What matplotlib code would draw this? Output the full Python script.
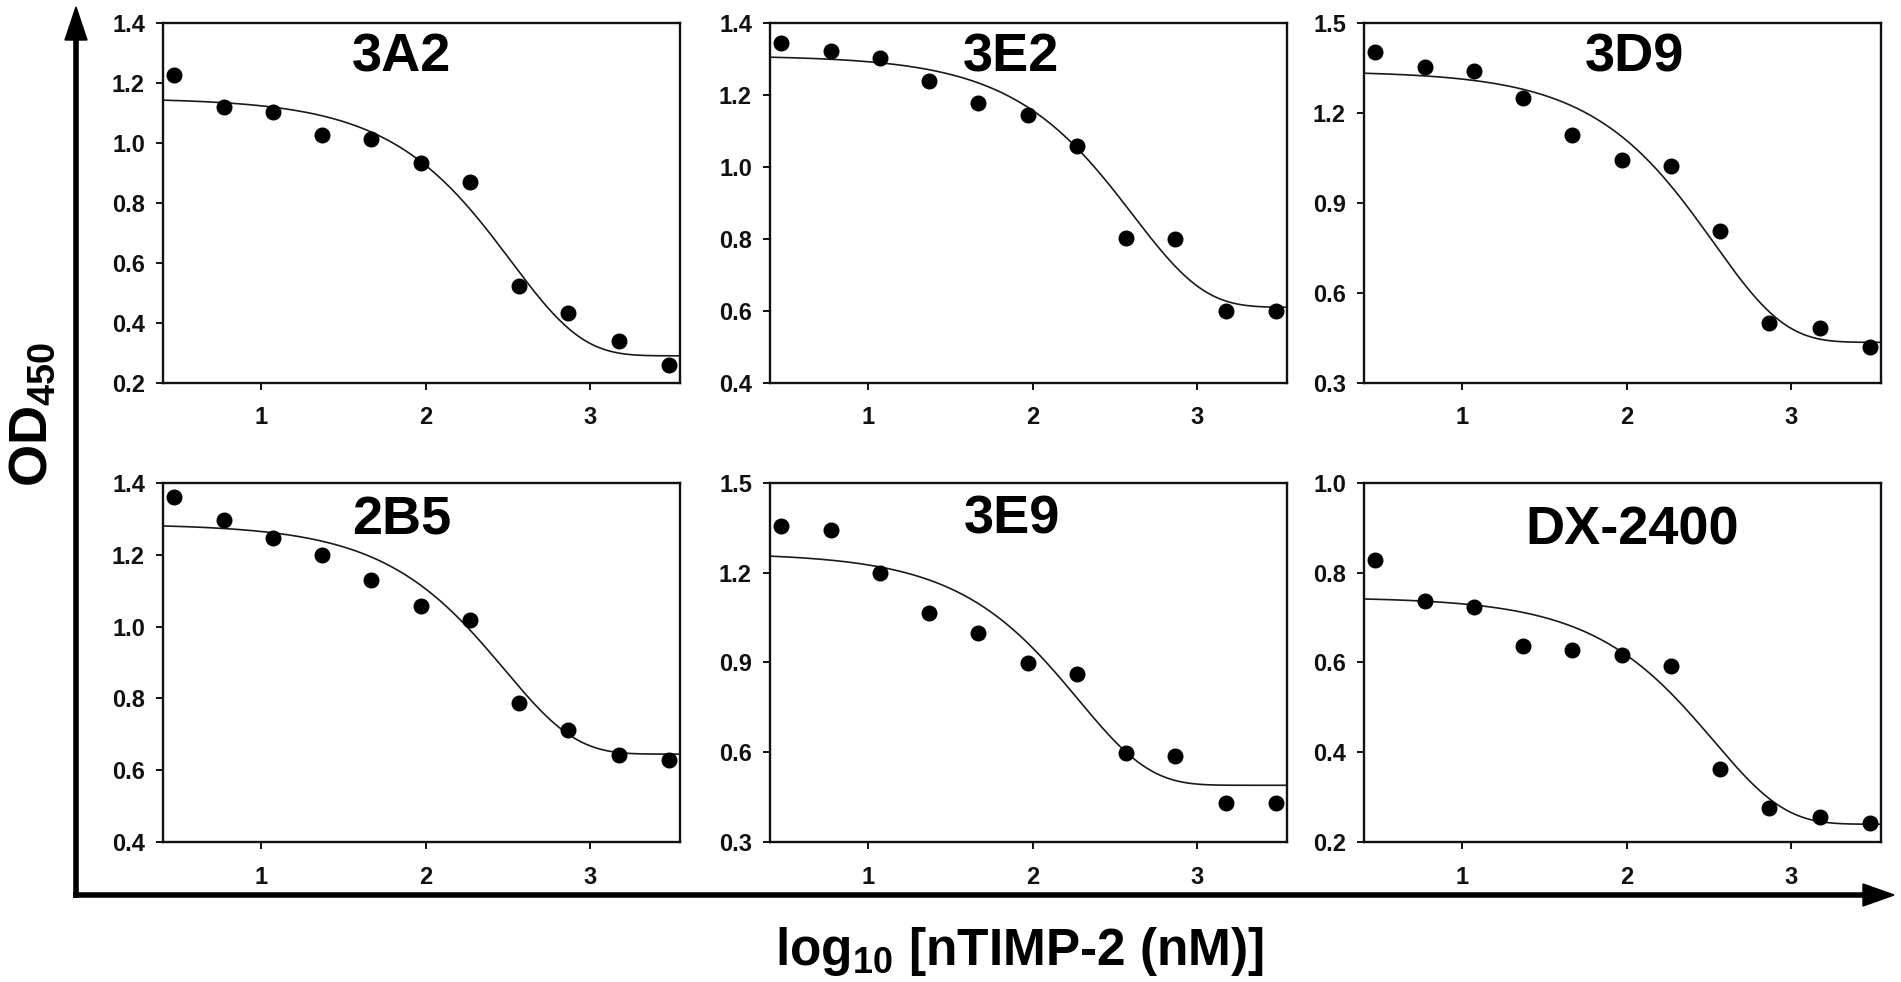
# -------------------------------------------------------------------------------------
# Libraries
import numpy as np
import matplotlib
matplotlib.use('Agg')
import matplotlib.pyplot as plt
from matplotlib.lines import Line2D
from matplotlib.patches import Polygon
from matplotlib.ticker import FormatStrFormatter
# -------------------------------------------------------------------------------------

# -------------------------------------------------------------------------------------
# Data
log_conc = [0.47, 0.77, 1.07, 1.37, 1.67, 1.97, 2.27, 2.57, 2.87, 3.18, 3.48]

panel_names = ['3A2', '3E2', '3D9', '2B5', '3E9', 'DX-2400']

od_3a2 = [1.228, 1.122, 1.105, 1.027, 1.013, 0.933, 0.871, 0.524, 0.434, 0.338, 0.259]
od_3e2 = [1.344, 1.324, 1.303, 1.240, 1.179, 1.145, 1.059, 0.803, 0.799, 0.600, 0.600]
od_3d9 = [1.405, 1.355, 1.342, 1.250, 1.127, 1.044, 1.025, 0.808, 0.498, 0.484, 0.420]
od_2b5 = [1.359, 1.297, 1.245, 1.199, 1.129, 1.058, 1.017, 0.788, 0.711, 0.642, 0.630]
od_3e9 = [1.354, 1.341, 1.200, 1.066, 0.999, 0.899, 0.862, 0.599, 0.588, 0.431, 0.432]
od_dx2400 = [0.828, 0.737, 0.723, 0.636, 0.627, 0.616, 0.593, 0.364, 0.277, 0.257, 0.242]

# fitted decay curves: top, bottom, log10 of decay constant
fit_top = [1.15, 1.31, 1.34, 1.285, 1.265, 0.745]
fit_bottom = [0.29, 0.61, 0.435, 0.645, 0.49, 0.24]
fit_log_x0 = [2.52, 2.61, 2.53, 2.48, 2.28, 2.53]

y_ticks = [[0.2, 0.4, 0.6, 0.8, 1.0, 1.2, 1.4],
           [0.4, 0.6, 0.8, 1.0, 1.2, 1.4],
           [0.3, 0.6, 0.9, 1.2, 1.5],
           [0.4, 0.6, 0.8, 1.0, 1.2, 1.4],
           [0.3, 0.6, 0.9, 1.2, 1.5],
           [0.2, 0.4, 0.6, 0.8, 1.0]]
x_ticks = [1, 2, 3]
x_limits = [0.40, 3.55]
# -------------------------------------------------------------------------------------

plt.rcParams['font.family'] = ['Liberation Sans', 'DejaVu Sans']
plt.rcParams['font.weight'] = 'bold'
plt.rcParams['mathtext.fontset'] = 'custom'
plt.rcParams['mathtext.rm'] = 'Liberation Sans:bold'
plt.rcParams['mathtext.it'] = 'Liberation Sans:bold'
plt.rcParams['mathtext.bf'] = 'Liberation Sans:bold'
plt.rcParams['mathtext.default'] = 'rm'

W, H = 1901, 982
fig = plt.figure(figsize=(W / 100, H / 100), dpi=100)
fig.patch.set_facecolor('white')


def fx(px):
    return px / W


def fy(py):
    return 1 - py / H


# panel layout in pixels: left, top
panel_left = [163, 770, 1364]
panel_top = [23.3, 482.7]
panel_w, panel_h = 517, 359.5

# title position in axes fraction
title_pos = [(0.462, 0.865), (0.466, 0.865), (0.524, 0.865),
             (0.462, 0.857), (0.468, 0.860), (0.519, 0.829)]

series = [od_3a2, od_3e2, od_3d9, od_2b5, od_3e9, od_dx2400]
x_fit = np.linspace(x_limits[0], x_limits[1], 300)

for i, (name, od) in enumerate(zip(panel_names, series)):
    row, col = divmod(i, 3)
    l = panel_left[col]
    t = panel_top[row]
    ax = fig.add_axes([fx(l), fy(t + panel_h), panel_w / W, panel_h / H])

    y_fit = fit_bottom[i] + (fit_top[i] - fit_bottom[i]) * np.exp(-10 ** x_fit / 10 ** fit_log_x0[i])
    ax.plot(x_fit, y_fit, color='#1a1a1a', lw=1.2)
    ax.plot(log_conc, od, 'o', color='black', ms=10.5, mec='black', clip_on=False, zorder=3)

    ax.set_xlim(x_limits)
    ax.set_ylim(y_ticks[i][0], y_ticks[i][-1])
    ax.set_xticks(x_ticks)
    ax.set_xticklabels([str(v) for v in x_ticks])
    ax.set_yticks(y_ticks[i])
    ax.yaxis.set_major_formatter(FormatStrFormatter('%.1f'))

    for s in ax.spines.values():
        s.set_linewidth(1.7)
        s.set_color('#111111')
    ax.tick_params(axis='both', direction='out', length=5, width=1.4, labelsize=17,
                   top=False, right=False, colors='#111111')
    ax.tick_params(axis='y', pad=8)
    ax.tick_params(axis='x', pad=12)

    ax.text(title_pos[i][0], title_pos[i][1], name, transform=ax.transAxes,
            ha='center', va='baseline', fontsize=39, fontweight='bold')

# big axis arrows
corner_x, corner_y = 76, 895
fig.add_artist(Line2D([fx(corner_x), fx(corner_x)], [fy(corner_y), fy(38)],
                      transform=fig.transFigure, color='black', lw=4, solid_capstyle='projecting'))
fig.add_artist(Polygon([[fx(corner_x), fy(7)], [fx(corner_x - 11), fy(40)], [fx(corner_x + 11), fy(40)]],
                       closed=True, transform=fig.transFigure, color='black'))
fig.add_artist(Line2D([fx(corner_x), fx(1866)], [fy(corner_y), fy(corner_y)],
                      transform=fig.transFigure, color='black', lw=4, solid_capstyle='projecting'))
fig.add_artist(Polygon([[fx(1894), fy(corner_y)], [fx(1863), fy(corner_y - 11)], [fx(1863), fy(corner_y + 11)]],
                       closed=True, transform=fig.transFigure, color='black'))

# axis titles
fig.text(fx(33), fy(414), r'OD$_{450}$', rotation=90, ha='center', va='center',
         fontsize=39, fontweight='bold')
fig.text(fx(1020), fy(965), r'log$_{10}$ [nTIMP-2 (nM)]', ha='center', va='baseline',
         fontsize=37, fontweight='bold')

fig.savefig('out.png', dpi=100, facecolor='white')
plt.close()
